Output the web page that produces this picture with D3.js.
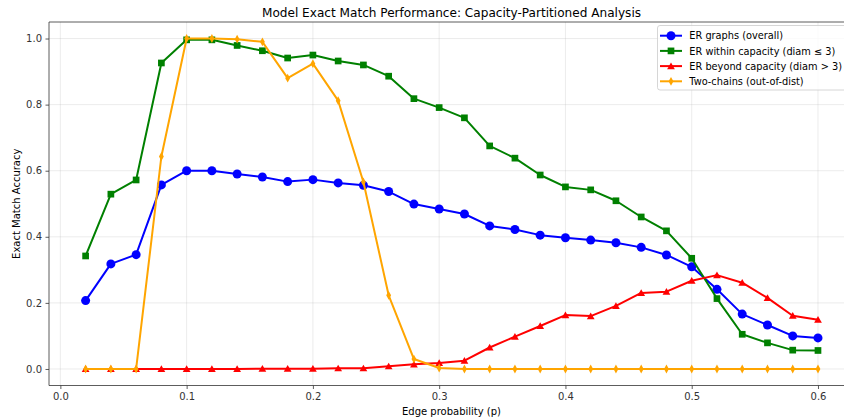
<!DOCTYPE html>
<html><head><meta charset="utf-8">
<script src="https://cdn.jsdelivr.net/npm/d3@7"></script>
<style>body{margin:0;background:#fff;} svg{display:block;font-family:"DejaVu Sans",sans-serif;}</style>
</head><body>
<svg id="c" width="844" height="420"></svg>
<script>
const pValues = [0.02,0.04,0.06,0.08,0.10,0.12,0.14,0.16,0.18,0.20,0.22,0.24,0.26,0.28,0.30,0.32,0.34,0.36,0.38,0.40,0.42,0.44,0.46,0.48,0.50,0.52,0.54,0.56,0.58,0.60];
const erOverall = [0.207,0.318,0.346,0.557,0.600,0.600,0.590,0.581,0.567,0.573,0.563,0.556,0.537,0.499,0.484,0.469,0.433,0.422,0.405,0.397,0.390,0.382,0.368,0.345,0.309,0.241,0.166,0.133,0.100,0.094];
const erWithin = [0.342,0.529,0.572,0.926,0.996,0.996,0.979,0.963,0.941,0.950,0.932,0.920,0.886,0.818,0.791,0.760,0.675,0.638,0.587,0.551,0.542,0.509,0.460,0.418,0.335,0.213,0.105,0.079,0.057,0.056];
const erBeyond = [0.000,0.000,0.000,0.000,0.000,0.000,0.000,0.001,0.001,0.001,0.002,0.002,0.008,0.014,0.018,0.025,0.065,0.098,0.130,0.163,0.160,0.191,0.230,0.234,0.267,0.284,0.261,0.215,0.161,0.149];
const twoChains = [0.000,0.000,0.000,0.643,1.000,1.000,0.998,0.990,0.880,0.924,0.812,0.566,0.223,0.030,0.003,0.000,0.000,0.000,0.000,0.000,0.000,0.000,0.000,0.000,0.000,0.000,0.000,0.000,0.000,0.000];
const seriesNames = ["ER graphs (overall)","ER within capacity (diam \u2264 3)","ER beyond capacity (diam > 3)","Two-chains (out-of-dist)"];
const xTicks = [0.0,0.1,0.2,0.3,0.4,0.5,0.6];
const yTicks = [0.0,0.2,0.4,0.6,0.8,1.0];
const titleText = "Model Exact Match Performance: Capacity-Partitioned Analysis";
const xLabel = "Edge probability (p)";
const yLabel = "Exact Match Accuracy";

const svg = d3.select("#c");
const L = 49, T = 22, B = 385.5;
const x = d3.scaleLinear().domain([-0.009, 0.629]).range([L, 854.6]);
const y = d3.scaleLinear().domain([-0.05, 1.05]).range([B, T]);

const fs = 10;
// grid
const grid = svg.append("g");
xTicks.forEach(t => grid.append("line").attr("x1", x(t)).attr("x2", x(t)).attr("y1", T).attr("y2", B).attr("stroke", "#b0b0b0").attr("stroke-opacity", 0.3).attr("stroke-width", 0.8));
yTicks.forEach(t => grid.append("line").attr("x1", L).attr("x2", 844).attr("y1", y(t)).attr("y2", y(t)).attr("stroke", "#b0b0b0").attr("stroke-opacity", 0.3).attr("stroke-width", 0.8));

// axes
const xAxis = svg.append("g").attr("transform", `translate(0,${B})`).call(d3.axisBottom(x).tickValues(xTicks).tickFormat(d3.format(".1f")).tickSize(3.5).tickPadding(3.5));
const yAxis = svg.append("g").attr("transform", `translate(${L},0)`).call(d3.axisLeft(y).tickValues(yTicks).tickFormat(d3.format(".1f")).tickSize(3.5).tickPadding(3.5));
[xAxis, yAxis].forEach(a => {
  a.select(".domain").remove();
  a.selectAll(".tick line").attr("stroke", "#333").attr("stroke-width", 0.8);
  a.selectAll(".tick text").attr("fill", "#333").style("font-size", fs + "px").style("font-family", "DejaVu Sans");
});
// spines
svg.append("line").attr("x1", L).attr("x2", 844).attr("y1", B).attr("y2", B).attr("stroke", "#333").attr("stroke-width", 0.8);
svg.append("line").attr("x1", L).attr("x2", 844).attr("y1", T).attr("y2", T).attr("stroke", "#333").attr("stroke-width", 0.8);
svg.append("line").attr("x1", L).attr("x2", L).attr("y1", T).attr("y2", B).attr("stroke", "#333").attr("stroke-width", 0.8);

// markers
const thinDiamond = (r) => { const w = r * 0.55, h = r; return `M0,${-h}L${w},0L0,${h}L${-w},0Z`; };
const markerPath = [
  d3.symbol().type(d3.symbolCircle).size(Math.PI * 4.5 * 4.5)(),
  d3.symbol().type(d3.symbolSquare).size(6.7 * 6.7)(),
  d3.symbol().type(d3.symbolTriangle).size(26)(),
  thinDiamond(4.4)
];
const colors = ["blue", "green", "red", "orange"];
const data = [erOverall, erWithin, erBeyond, twoChains];

const line = d3.line().x((d, i) => x(pValues[i])).y(d => y(d));
data.forEach((vals, k) => {
  const g = svg.append("g");
  g.append("path").attr("d", line(vals)).attr("fill", "none").attr("stroke", colors[k]).attr("stroke-width", 2).attr("stroke-linejoin", "round");
  g.selectAll("path.m").data(vals).enter().append("path").attr("class", "m")
    .attr("d", markerPath[k])
    .attr("transform", (d, i) => `translate(${x(pValues[i])},${y(d) + (k === 2 ? 0.8 : 0)})`)
    .attr("fill", colors[k]);
});

// title & labels
svg.append("text").attr("x", 451.5).attr("y", 17).attr("text-anchor", "middle").style("font-size", "12.1px").attr("fill", "#000").text(titleText);
svg.append("text").attr("x", 451.5).attr("y", 415).attr("text-anchor", "middle").style("font-size", fs + "px").attr("fill", "#000").text(xLabel);
svg.append("text").attr("transform", `translate(19.5,${(T + B) / 2}) rotate(-90)`).attr("text-anchor", "middle").style("font-size", fs + "px").attr("fill", "#000").text(yLabel);

// legend
const lg = svg.append("g");
lg.append("rect").attr("x", 657.5).attr("y", 25.5).attr("width", 200).attr("height", 64.5).attr("rx", 2.5).attr("fill", "#fff").attr("fill-opacity", 0.8).attr("stroke", "#ccc").attr("stroke-width", 0.8);
const texts = [];
seriesNames.forEach((n, k) => {
  const yy = 35.7 + k * 15.2;
  lg.append("line").attr("x1", 660).attr("x2", 682).attr("y1", yy).attr("y2", yy).attr("stroke", colors[k]).attr("stroke-width", 2);
  lg.append("path").attr("d", markerPath[k]).attr("transform", `translate(671,${yy + (k === 2 ? 0.8 : 0)})`).attr("fill", colors[k]);
  texts.push(lg.append("text").attr("x", 689.3).attr("y", yy + 3.6).style("font-size", fs + "px").attr("fill", "#000").text(n));
});
// fit the longest legend entry inside the visible figure
const maxW = d3.max(texts, t => t.node().getComputedTextLength());
const legFs = Math.min(fs, fs * 153 / maxW);
texts.forEach(t => t.style("font-size", legFs + "px"));
</script>
</body></html>
